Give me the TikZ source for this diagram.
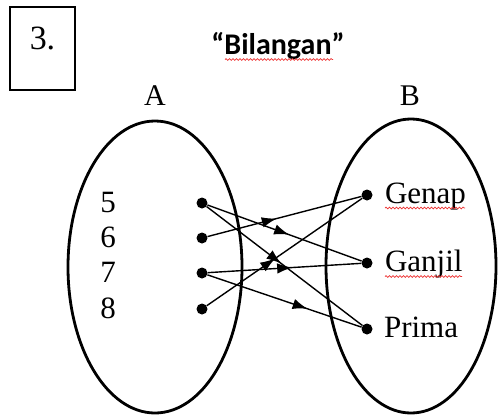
\documentclass[tikz,border=0pt]{standalone}
\usepackage{fontspec}
\setmainfont{Liberation Serif}
\newfontfamily\titlefont{Carlito}
\usetikzlibrary{arrows.meta,decorations.markings,decorations.pathmorphing}
\definecolor{spellred}{rgb}{0.93,0.2,0.2}

\tikzset{
  midarrow/.style={postaction={decorate},
    decoration={markings,mark=at position #1 with {\arrow{Latex[length=15pt,width=10.5pt]}}}},
}

\begin{document}
\begin{tikzpicture}[x=1pt,y=-1pt]
        \tikzstyle{every node}=[font=\fontsize{31}{34}\selectfont]
        \tikzstyle{dot}=[circle,fill=black,inner sep=0pt,minimum size=11pt]
        \tikzstyle{conn}=[line width=1.4pt]
        \tikzstyle{set}=[line width=2.8pt]
        \tikzstyle{spell}=[spellred,line width=0.7pt,decorate,
          decoration={snake,amplitude=0.9pt,segment length=3.5pt}]
        \useasboundingbox (0,0) rectangle (501,416);
        \clip (0,0) rectangle (501,416);
        \begin{scope}
       % number box and title
       \draw[line width=1.2pt] (10,7) rectangle (75,90);
       \node[anchor=base,font=\fontsize{34}{36}\selectfont] (num) at (42.5,49) {3.};
       \node[anchor=base,font=\titlefont\bfseries\fontsize{30}{32}\selectfont] (title) at (278,54) {“Bilangan”};
       \draw[spell] (225,59.5) -- (333,59.5);

       % the two sets
       \draw[set] (155,267) ellipse [x radius=87pt, y radius=146pt];
       \draw[set] (411,266) ellipse [x radius=85pt, y radius=147pt];
       \node[anchor=base,font=\fontsize{30}{32}\selectfont] (setA) at (155,105) {A};
       \node[anchor=base,font=\fontsize{30}{32}\selectfont] (setB) at (410,105) {B};

       \foreach\n/\y in {5/203,6/238,7/273,8/309}{
            \node[dot] (a\n) at (202,\y) {};
            \node[anchor=base] (n\n) at (108,\y+9.5) {\n};
        }

       \node[dot] (genap) at (367,195) {};
       \node[anchor=base west] (tgenap) at (381.5,203.5) {Genap};
       \draw[spell] (385,208) -- (465,208);

       \node[dot] (ganjil) at (367,263) {};
       \node[anchor=base west] (tganjil) at (381.5,271) {Ganjil};
       \draw[spell] (385,276.5) -- (462,276.5);

       \node[dot] (prima) at (367,329) {};
       \node[anchor=base west] (tprima) at (380.5,337) {Prima};

       % relation
       \draw[conn,midarrow=0.53] (a5) -- (ganjil);
       \draw[conn,midarrow=0.48] (a5) -- (prima);
       \draw[conn,midarrow=0.45] (a6) -- (genap);
       \draw[conn,midarrow=0.55] (a7) -- (ganjil);
       \draw[conn,midarrow=0.65] (a7) -- (prima);
       \draw[conn,midarrow=0.44] (a8) -- (genap);
     \end{scope}
  \end{tikzpicture}
\end{document}
